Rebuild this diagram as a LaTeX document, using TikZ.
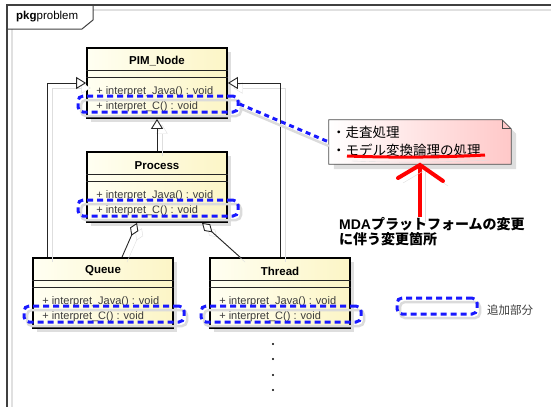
\documentclass[tikz,border=0pt]{standalone}
\usepackage{fontspec}
\setmainfont{Liberation Sans}
\newfontfamily\jp{Noto Sans CJK JP}
\usetikzlibrary{arrows.meta,shadows}

\definecolor{clsleft}{RGB}{255,255,242}
\definecolor{clsright}{RGB}{252,245,198}
\definecolor{notepink}{RGB}{255,200,200}
\definecolor{hiblue}{RGB}{25,25,255}
\definecolor{optext}{RGB}{60,60,60}

\tikzset{
  frame/.style={draw=black!75, line width=1.5pt},
  classbox/.style={draw=black, line width=1.8pt, minimum width=140pt, minimum height=70pt,
    inner sep=0pt, left color=clsleft, right color=clsright,
    drop shadow={shadow xshift=4pt, shadow yshift=-4pt, fill=black!13, opacity=1}},
  clsname/.style={font=\fontsize{11.5}{13}\selectfont\bfseries, inner sep=0pt},
  op/.style={anchor=west, inner sep=0pt, text=optext, font=\fontsize{11}{13}\selectfont},
  sep/.style={draw=black!85, line width=0.8pt},
  lineshadow/.style={preaction={draw=black!13, transform canvas={xshift=5pt,yshift=-5pt}}},
  gen/.style={draw=black!85, line width=0.9pt, lineshadow,
    -{Triangle[length=10pt,width=12pt,fill=white]}},
  agg/.style={draw=black!85, line width=0.9pt, lineshadow,
    {Diamond[length=14pt,width=9pt,fill=white]}-},
  hilite/.style={draw=hiblue, line width=3pt, dash pattern=on 6pt off 4pt, rounded corners=5pt,
    minimum width=160pt, minimum height=16pt, inner sep=0pt,
    preaction={draw=black!14, solid, line width=2.5pt, transform canvas={xshift=3pt,yshift=-4pt}}},
  hiline/.style={draw=hiblue, line width=3pt, dash pattern=on 5pt off 4pt,
    preaction={draw=black!14, solid, line width=2.5pt, transform canvas={xshift=0pt,yshift=-4pt}}},
  redpen/.style={draw=red, line width=4pt,
    preaction={draw=black!13, transform canvas={xshift=5pt,yshift=-5pt}}},
  jptext/.style={inner sep=0pt, font=\jp\fontsize{13.5}{18}\selectfont}
}

\begin{document}
\begin{tikzpicture}[x=1pt,y=-1pt]
  \useasboundingbox (0,0) rectangle (551,407);

  % package frame and its tab
  \draw[black!12, line width=1.5pt] (93,10) -- (551,10);
  \draw[black!12, line width=1.5pt] (12,29) -- (12,407);
  \draw[frame] (551,5) -- (7,5) -- (7,407);
  \draw[frame, line width=1pt] (7,29) -- (82,29) -- (93,20) -- (93,5);
  \node[anchor=west, inner sep=0pt, font=\fontsize{11.5}{13}\selectfont] (pkg) at (16,17) {\textbf{pkg}problem};

  % classes
  \foreach \n/\name/\x/\y in {pim/PIM\_Node/157/83, proc/Process/157/187,
      queue/Queue/103/293, thread/Thread/280/293} {
    \node[classbox] (\n) at (\x,\y) {};
    \node[clsname] (\n-name) at ([yshift=-14pt]\n.north) {\name};
    \draw[sep] ([yshift=-23pt]\n.north west) -- ([yshift=-23pt]\n.north east);
    \draw[sep] ([yshift=-30pt]\n.north west) -- ([yshift=-30pt]\n.north east);
    \node[op] (\n-java) at ([xshift=10pt,yshift=-44.5pt]\n.north west) {+ interpret\_Java() : void};
    \node[op] (\n-c) at ([xshift=10pt,yshift=-59.5pt]\n.north west) {+ interpret\_C() : void};
  }

  % inheritance and aggregation
  \draw[gen] (proc.north) -- (pim.south);
  \draw[gen] ([xshift=15pt]queue.north west) |- (pim.west);
  \draw[gen] (thread.north) |- (pim.east);
  \draw[agg] ([xshift=-20pt]proc.south) -- ([xshift=19pt]queue.north);
  \draw[agg] ([xshift=45pt]proc.south) -- ([xshift=-40pt]thread.north);

  % added operations
  \foreach \n in {pim,proc,queue,thread}
    \node[hilite] (\n-hl) at ([xshift=1pt,yshift=-21pt]\n.center) {};

  % note
  \node[minimum width=182pt, minimum height=44pt, inner sep=0pt] (note) at (420,142) {};
  \path[draw=black!70, line width=0.8pt, left color=white, right color=notepink,
      drop shadow={shadow xshift=5pt, shadow yshift=-5pt, fill=black!13, opacity=1}]
    (note.south west) -- (note.north west) -- ([xshift=-9pt]note.north east)
    -- ([yshift=-9pt]note.north east) -- (note.south east) -- cycle;
  \draw[black!70, line width=0.8pt] ([xshift=-9pt]note.north east) -- ++(0,9) -- ++(9,0);
  \node[jptext, anchor=west] (n1) at (332,132) {・走査処理};
  \node[jptext, anchor=west] (n2) at (332,150) {・モデル変換論理の処理};
  \draw[hiline] (pim-hl.east) -- (note.west);

  % marked change
  \draw[redpen, line width=3pt] (347,156) .. controls (400,158) and (450,157) .. (485,155);
  \node[anchor=north west, align=left, inner sep=0pt,
      font=\fontsize{14}{15.5}\selectfont\bfseries] (chg) at (339,217)
    {MDA{\jp プラットフォームの変更}\\{\jp に伴う変更箇所}};
  \coordinate (tip) at (420,165);
  \draw[redpen] (tip |- chg.north) -- (tip);
  \draw[redpen, line cap=round] (398,178) -- (tip) -- (443,181);

  % legend
  \node[hilite, minimum width=80pt] (legend) at (437,306) {};
  \node[anchor=west, inner sep=0pt, text=optext, font=\jp\fontsize{11.5}{13}\selectfont]
    (legtext) at (487,310) {追加部分};

  % more subclasses
  \foreach \y in {344,359,375,390}
    \fill (273,\y) circle (1.1pt);
\end{tikzpicture}
\end{document}
